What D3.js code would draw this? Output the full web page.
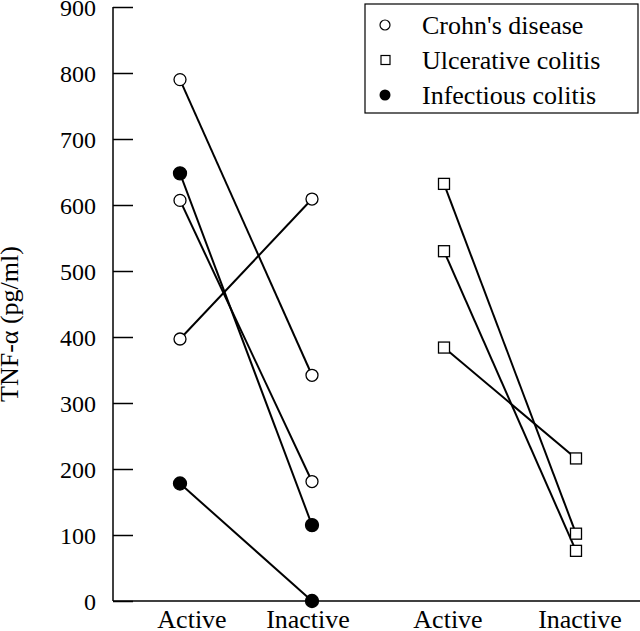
<!DOCTYPE html>
<html><head><meta charset="utf-8">
<script src="https://cdn.jsdelivr.net/npm/d3@7"></script>
<style>body{margin:0;background:#fff}</style>
</head><body>
<svg id="c" width="640" height="631"></svg>
<script>
const categories = ["Active", "Inactive", "Active", "Inactive"];
const yTicks = [0,100,200,300,400,500,600,700,800,900];
const crohnActive = [790, 607, 397];
const crohnInactive = [342, 181, 609];
const ucActive = [632, 530, 384];
const ucInactive = [102, 76, 216];
const infActive = [648, 178];
const infInactive = [115, 0];
const legendLabels = ["Crohn's disease", "Ulcerative colitis", "Infectious colitis"];

const svg = d3.select("#c");
const font = "Liberation Serif, Times New Roman, serif";
const y = d3.scaleLinear().domain([0, 900]).range([601, 7]);
const x = d3.scaleLinear().domain([0, 3]).range([180, 576]);
const AX = 113;

// axes
svg.append("line").attr("x1",AX).attr("x2",AX).attr("y1",y(900)).attr("y2",y(0)).attr("stroke","#000").attr("stroke-width",1.5);
svg.append("line").attr("x1",AX).attr("x2",640).attr("y1",y(0)).attr("y2",y(0)).attr("stroke","#000").attr("stroke-width",1.5);
const yAxis = d3.axisRight(y).tickValues(yTicks).tickSize(20).tickFormat("");
const ga = svg.append("g").attr("transform",`translate(${AX},0)`).call(yAxis);
ga.select(".domain").remove();
ga.selectAll(".tick line").attr("stroke","#000").attr("stroke-width",1.5);
svg.selectAll(".ylab").data(yTicks).enter().append("text")
  .attr("x",96).attr("y",d=>y(d)+8.5).attr("text-anchor","end")
  .attr("font-family",font).attr("font-size",24).text(d=>d);
svg.selectAll(".xlab").data(categories).enter().append("text")
  .attr("x",(d,i)=>x(i)+ (i===0?12:(i===1?-4:4))).attr("y",628).attr("text-anchor","middle")
  .attr("font-family",font).attr("font-size",26).text(d=>d);
svg.append("text").attr("transform","translate(18,324) rotate(-90)").attr("text-anchor","middle")
  .attr("font-family",font).attr("font-size",26).text("TNF-α (pg/ml)");

function pairs(a,b,i0){ return a.map((v,k)=>({x0:x(i0),y0:y(v),x1:x(i0+1),y1:y(b[k])})); }
const crohn = pairs(crohnActive, crohnInactive, 0);
const inf = pairs(infActive, infInactive, 0);
const uc = pairs(ucActive, ucInactive, 2);
const all = crohn.concat(inf, uc);
svg.selectAll(".seg").data(all).enter().append("line")
  .attr("x1",d=>d.x0).attr("y1",d=>d.y0).attr("x2",d=>d.x1).attr("y2",d=>d.y1)
  .attr("stroke","#000").attr("stroke-width",2);

function circles(data, fill){
  const pts = data.flatMap(d=>[[d.x0,d.y0],[d.x1,d.y1]]);
  svg.selectAll(null).data(pts).enter().append("circle")
    .attr("cx",d=>d[0]).attr("cy",d=>d[1]).attr("r",fill?6.5:6)
    .attr("fill",fill?"#000":"#fff").attr("stroke","#000").attr("stroke-width",1.3);
}
circles(crohn,false);
circles(inf,true);
const upts = uc.flatMap(d=>[[d.x0,d.y0],[d.x1,d.y1]]);
svg.selectAll(null).data(upts).enter().append("rect")
  .attr("x",d=>d[0]-5.5).attr("y",d=>d[1]-5.5).attr("width",11).attr("height",11)
  .attr("fill","#fff").attr("stroke","#000").attr("stroke-width",1.3);

// legend
svg.append("rect").attr("x",365).attr("y",4).attr("width",273).attr("height",109)
  .attr("fill","#fff").attr("stroke","#000").attr("stroke-width",1.2);
const ly = [25, 60, 95];
svg.append("circle").attr("cx",385).attr("cy",ly[0]).attr("r",5).attr("fill","#fff").attr("stroke","#000").attr("stroke-width",1.2);
svg.append("rect").attr("x",381).attr("y",ly[1]-4.5).attr("width",9).attr("height",9).attr("fill","#fff").attr("stroke","#000").attr("stroke-width",1.2);
svg.append("circle").attr("cx",385).attr("cy",ly[2]).attr("r",5.5).attr("fill","#000");
svg.selectAll(".leg").data(legendLabels).enter().append("text")
  .attr("x",422).attr("y",(d,i)=>ly[i]+9).attr("font-family",font).attr("font-size",26).text(d=>d);
</script>
</body></html>
